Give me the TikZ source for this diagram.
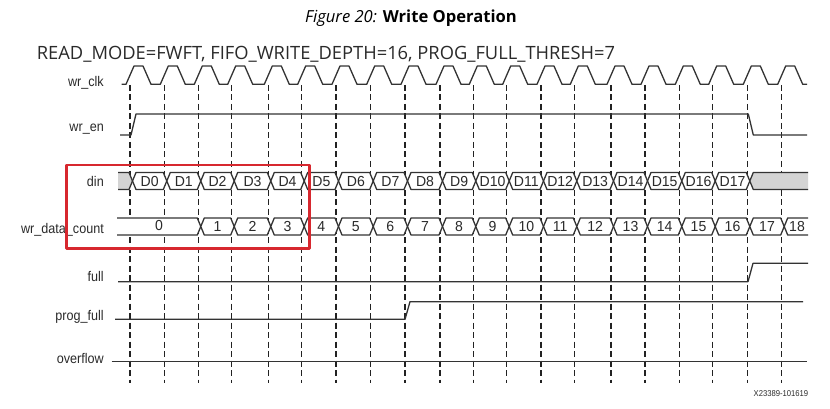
\documentclass[tikz,border=0pt]{standalone}
\usepackage{fontspec}
\setmainfont{Liberation Sans}
\newfontfamily\lab[FakeStretch=0.9]{Liberation Sans}
\newfontfamily\valfont[FakeStretch=0.97]{Liberation Sans}
\newfontfamily\hdr{Open Sans}
\definecolor{sigc}{HTML}{333333}
\definecolor{gridc}{HTML}{222222}
\definecolor{txtc}{HTML}{2A2A2A}
\definecolor{redc}{HTML}{D7282F}
\definecolor{grayc}{HTML}{D4D4D4}
\begin{document}
\begin{tikzpicture}[x=1pt,y=-1pt,line join=round,
  sig/.style={draw=sigc,line width=1.3pt},
  gridline/.style={draw=gridc,line width=1.2pt,dash pattern=on 6pt off 3.5pt},
  lbl/.style={anchor=base east,inner sep=0pt,font=\lab\fontsize{14}{14}\selectfont,text=txtc},
  val/.style={inner sep=0pt,font=\valfont\fontsize{14.5}{15}\selectfont,text=txtc},
  busbox/.style={sig,fill=white}]
\useasboundingbox (0,0) rectangle (830,409);
\fill[white] (0,0) rectangle (830,409);

% titles
\node[anchor=base,inner sep=0pt,font=\hdr\fontsize{16.6}{17}\selectfont,text=black] (title) at (411,22.7) {\textit{Figure 20:} \textbf{Write Operation}};
\node[anchor=base west,inner sep=0pt,font=\hdr\fontsize{18.3}{19}\selectfont,text=txtc] (hdr) at (36.7,59.3) {READ\_MODE=FWFT, FIFO\_WRITE\_DEPTH=16, PROG\_FULL\_THRESH=7};

% grid lines
\foreach \x in {130,164.3,198.3,231.7,268.3,301.7,336,370.7,405,440,473.3,506.7,541,574.3,611,645,679.3,712.7,747.3,781.7}
  \draw[gridline] (\x,85) -- (\x,383);

% labels
\node[lbl] (lclk) at (104,87) {wr\_clk};
\node[lbl] (len) at (104,131.7) {wr\_en};
\node[lbl] (ldin) at (104,186.7) {din};
\node[lbl] (lcnt) at (104,233.3) {wr\_data\_count};
\node[lbl] (lfull) at (104,281.7) {full};
\node[lbl] (lpf) at (104,320) {prog\_full};
\node[lbl] (lovf) at (104,363.3) {overflow};

% clock
\draw[sig] (121.7,84.3) \foreach \x in {130,164.3,198.3,231.7,268.3,301.7,336,370.7,405,440,473.3,506.7,541,574.3,611,645,679.3,712.7,747.3,781.7} { -- (\x-4,84.3) -- (\x+4,66) -- (\x+13,66) -- (\x+21,84.3) } -- (807,84.3);

% wr_en
\draw[sig] (120,135) -- (131,135) -- (136,114) -- (748.3,114) -- (753.3,135) -- (807,135);

% din
\fill[grayc] (118,172.5) -- (129,172.5) -- (132.5,181) -- (129,189.5) -- (118,189.5) -- cycle;
\draw[sig] (118,172.5) -- (129,172.5) -- (132.5,181) -- (129,189.5) -- (118,189.5);
\foreach \a/\b/\t [count=\i] in {132.5/166.8/D0,166.8/200.8/D1,200.8/234.2/D2,234.2/270.8/D3,270.8/304.2/D4,304.2/338.5/D5,338.5/373.2/D6,373.2/407.5/D7,407.5/442.5/D8,442.5/475.8/D9,475.8/509.2/D10,509.2/543.5/D11,543.5/576.8/D12,576.8/613.5/D13,613.5/647.5/D14,647.5/681.8/D15,681.8/715.2/D16,715.2/749.8/D17} {
  \draw[busbox] (\a,181) -- (\a+3.5,172.5) -- (\b-3.5,172.5) -- (\b,181) -- (\b-3.5,189.5) -- (\a+3.5,189.5) -- cycle;
  \node[val] (din\i) at ({(\a+\b)/2},181.5) {\t};
}
\fill[grayc] (749.8,181) -- (753.3,172.5) -- (808,172.5) -- (808,189.5) -- (753.3,189.5) -- cycle;
\draw[sig] (808,172.5) -- (753.3,172.5) -- (749.8,181) -- (753.3,189.5) -- (808,189.5);

% wr_data_count
\fill[white] (117,218) -- (197.3,218) -- (200.8,226.5) -- (197.3,235) -- (117,235) -- cycle;
\draw[sig] (117,218) -- (197.3,218) -- (200.8,226.5) -- (197.3,235) -- (117,235);
\node[val] (cnt0) at (159,226) {0};
\foreach \a/\b/\t in {200.8/234.2/1,234.2/270.8/2,270.8/304.2/3,304.2/338.5/4,338.5/373.2/5,373.2/407.5/6,407.5/442.5/7,442.5/475.8/8,475.8/509.2/9,509.2/543.5/10,543.5/576.8/11,576.8/613.5/12,613.5/647.5/13,647.5/681.8/14,681.8/715.2/15,715.2/749.8/16,749.8/784.2/17} {
  \draw[busbox] (\a,226.5) -- (\a+3.5,218) -- (\b-3.5,218) -- (\b,226.5) -- (\b-3.5,235) -- (\a+3.5,235) -- cycle;
  \node[val] (cnt\t) at ({(\a+\b)/2},226.5) {\t};
}
\fill[white] (808,218) -- (787.7,218) -- (784.2,226.5) -- (787.7,235) -- (808,235) -- cycle;
\draw[sig] (808,218) -- (787.7,218) -- (784.2,226.5) -- (787.7,235) -- (808,235);
\node[val] (cnt18) at (797,226.5) {18};

% full, prog_full, overflow
\draw[sig] (118,281.7) -- (748,281.7) -- (753,263.3) -- (808,263.3);
\draw[sig] (115,319.3) -- (405,319.3) -- (410,301.7) -- (803,301.7);
\draw[sig] (111.7,361.7) -- (807,361.7);

% highlight box
\draw[redc,line width=2.7pt] (66.7,165) rectangle (309.3,248.3);

% figure id
\node[anchor=base east,inner sep=0pt,font=\lab\fontsize{8.5}{9}\selectfont,text=txtc] (figid) at (808.3,396) {X23389-101619};
\end{tikzpicture}
\end{document}
